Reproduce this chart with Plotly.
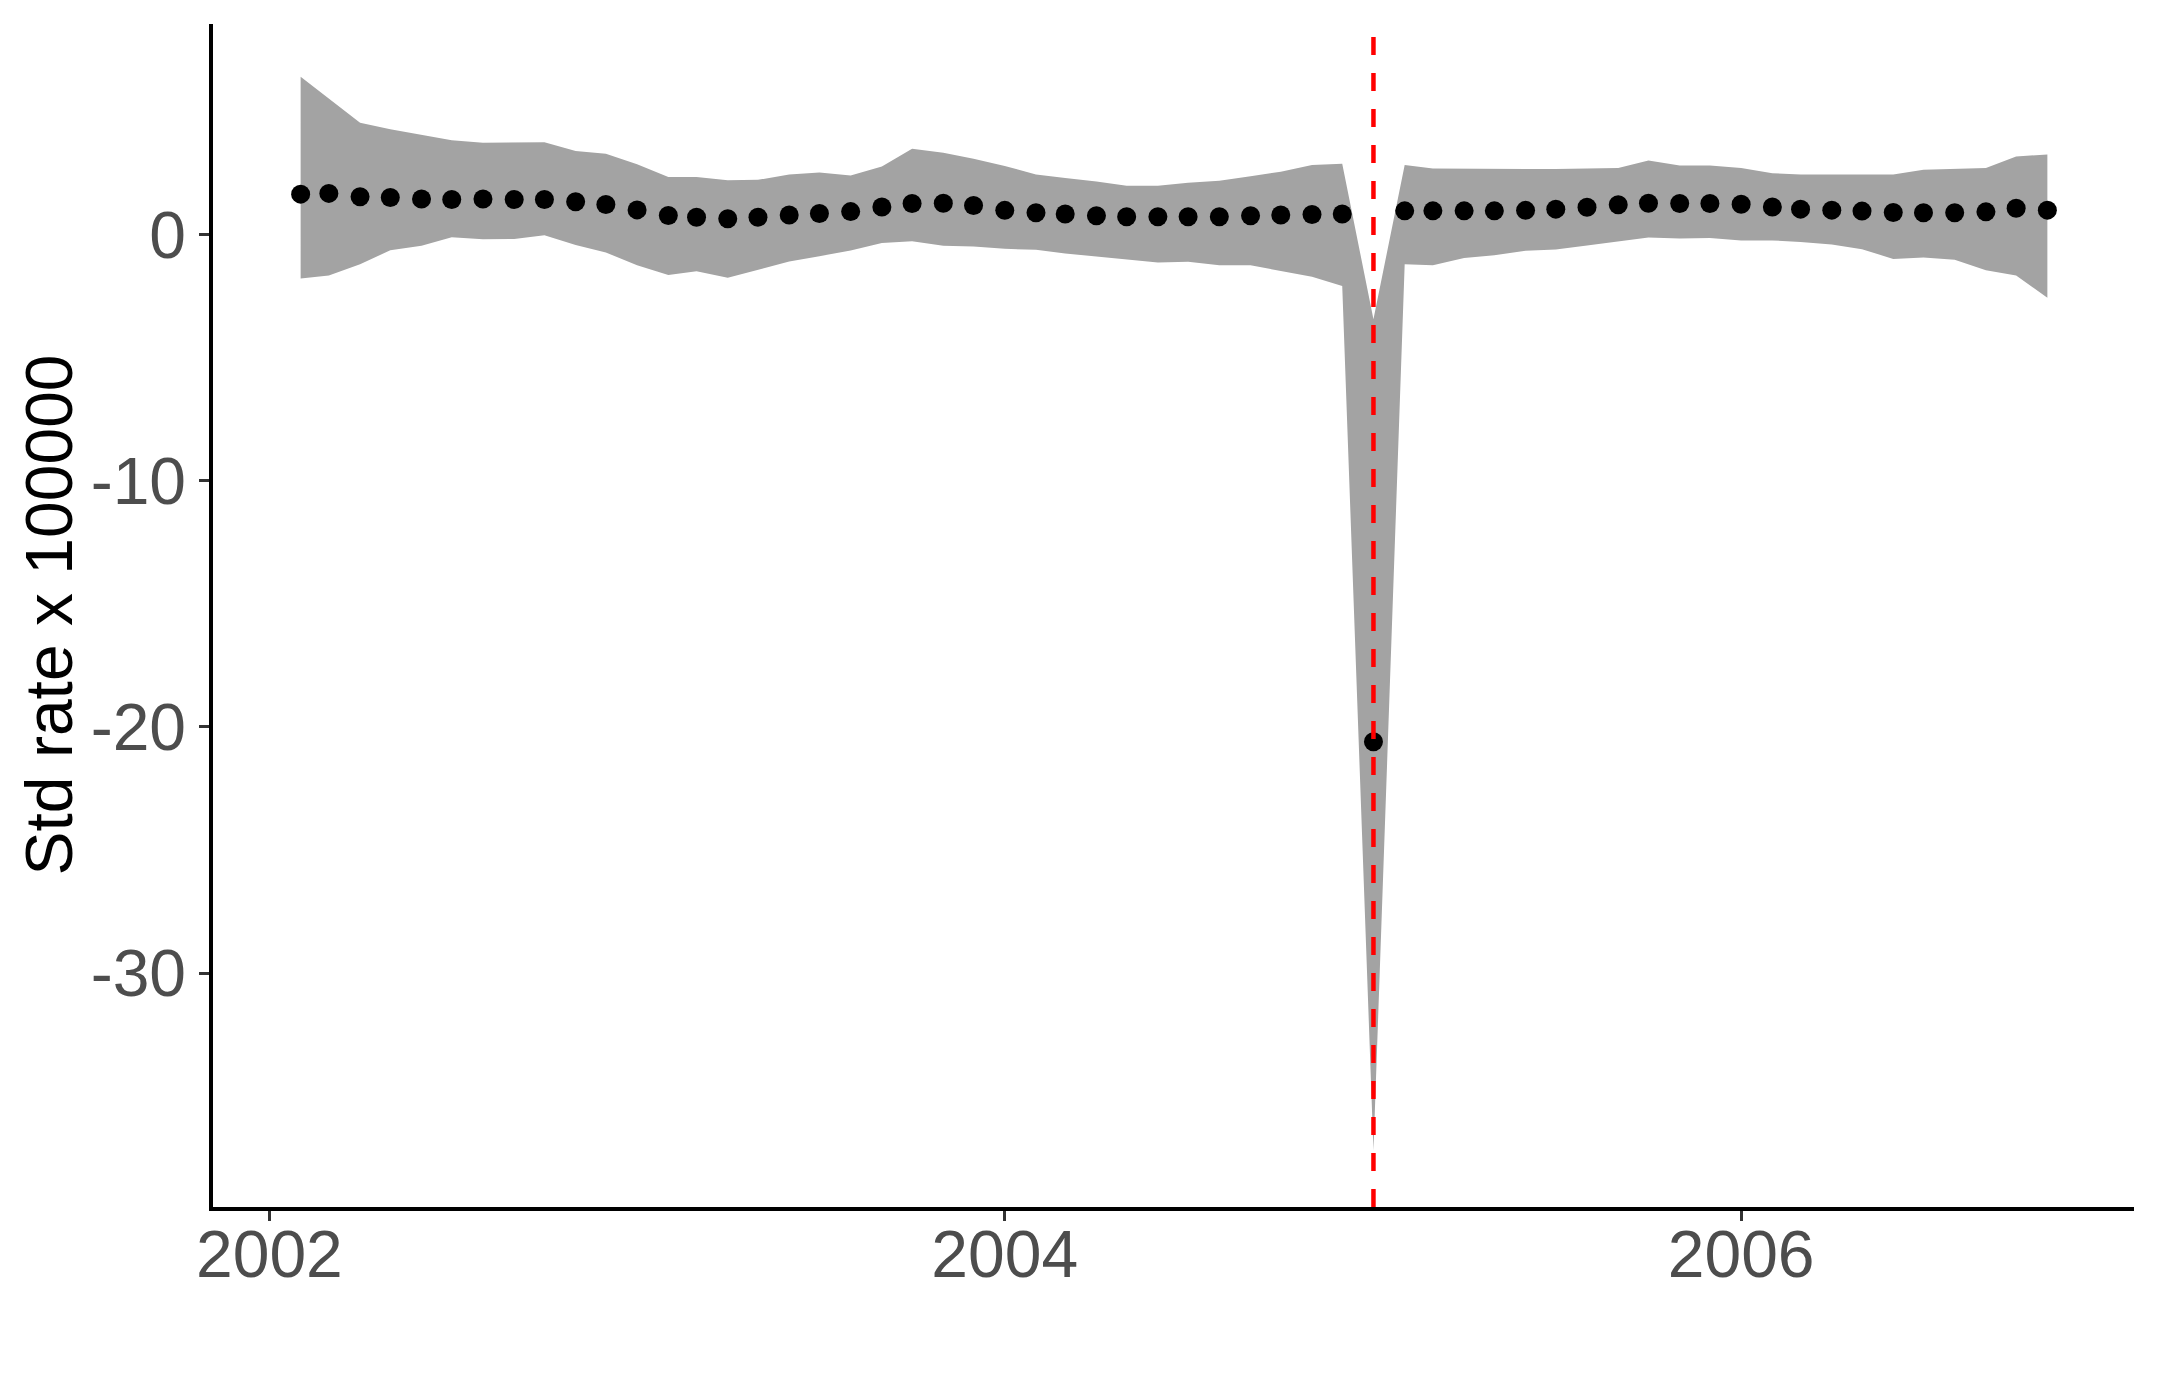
import pandas as pd
import plotly.graph_objects as go

# monthly observations, Feb 2002 - Nov 2006
months = pd.date_range("2002-02-01", periods=58, freq="MS")

rate = [1.64, 1.67, 1.53, 1.50, 1.44, 1.42, 1.44, 1.42, 1.42, 1.33,
        1.22, 1.00, 0.77, 0.70, 0.64, 0.70, 0.79, 0.85, 0.93, 1.12,
        1.26, 1.27, 1.18, 0.98, 0.88, 0.83, 0.76, 0.72, 0.72, 0.72,
        0.72, 0.76, 0.79, 0.81, 0.83, -20.6, 0.96, 0.96, 0.96, 0.96,
        0.98, 1.03, 1.11, 1.21, 1.27, 1.26, 1.26, 1.23, 1.12, 1.03,
        0.99, 0.95, 0.89, 0.88, 0.88, 0.92, 1.07, 0.99]

upper = [6.41, 5.53, 4.54, 4.28, 4.05, 3.83, 3.73, 3.73, 3.75, 3.39,
         3.28, 2.85, 2.34, 2.34, 2.20, 2.22, 2.44, 2.52, 2.40, 2.76,
         3.48, 3.32, 3.08, 2.78, 2.44, 2.29, 2.15, 1.98, 1.98, 2.10,
         2.18, 2.37, 2.55, 2.82, 2.87, -3.44, 2.82, 2.68, 2.67, 2.67,
         2.67, 2.66, 2.68, 2.70, 3.01, 2.80, 2.80, 2.70, 2.49, 2.44,
         2.44, 2.44, 2.44, 2.63, 2.68, 2.70, 3.17, 3.25]

lower = [-1.79, -1.67, -1.21, -0.64, -0.46, -0.11, -0.19, -0.18, -0.03, -0.43,
         -0.73, -1.25, -1.64, -1.49, -1.76, -1.45, -1.10, -0.88, -0.65, -0.35,
         -0.27, -0.46, -0.49, -0.58, -0.62, -0.77, -0.89, -1.00, -1.14, -1.11,
         -1.25, -1.25, -1.48, -1.72, -2.09, -37.2, -1.21, -1.25, -0.95, -0.84,
         -0.66, -0.61, -0.45, -0.28, -0.12, -0.16, -0.14, -0.24, -0.24, -0.30,
         -0.41, -0.60, -0.99, -0.93, -1.03, -1.45, -1.67, -2.57]

event_date = "2005-01-01"
year_ticks = ["2002-01-01", "2004-01-01", "2006-01-01"]
year_labels = ["2002", "2004", "2006"]
y_ticks = [0, -10, -20, -30]

font_family = "Liberation Sans, Arial, sans-serif"

fig = go.Figure()
fig.add_trace(go.Scatter(x=months, y=lower, mode="lines", line=dict(width=0),
                         showlegend=False, hoverinfo="skip"))
fig.add_trace(go.Scatter(x=months, y=upper, mode="lines", line=dict(width=0),
                         fill="tonexty", fillcolor="#A3A3A3",
                         showlegend=False, hoverinfo="skip"))
fig.add_trace(go.Scatter(x=months, y=rate, mode="markers",
                         marker=dict(color="black", size=19),
                         showlegend=False))

# vertical dashed line at the event
fig.add_shape(type="line", x0=event_date, x1=event_date, xref="x",
              y0=0, y1=1, yref="paper", layer="above",
              line=dict(color="#FF0000", width=4.5, dash="18px,18px"))

fig.add_annotation(text="Std rate x 100000", textangle=-90,
                   xref="paper", yref="paper", x=0, y=0.5,
                   xanchor="center", yanchor="middle", xshift=-165,
                   showarrow=False,
                   font=dict(family=font_family, size=66, color="black"))

fig.update_layout(
    width=2160, height=1386,
    margin=dict(l=205, r=34, t=16, b=187),
    plot_bgcolor="white", paper_bgcolor="white",
    font=dict(family=font_family),
    xaxis=dict(type="date", range=["2001-11-06", "2007-01-26"],
               tickvals=year_ticks, ticktext=year_labels,
               showgrid=False, zeroline=False,
               showline=True, linecolor="black", linewidth=3.5,
               ticks="outside", ticklen=10, tickwidth=2.5, tickcolor="#333333",
               ticklabelstandoff=-23,
               tickfont=dict(size=66, color="#4D4D4D")),
    yaxis=dict(range=[-39.5, 8.55],
               tickvals=y_ticks, ticktext=[str(v) for v in y_ticks],
               showgrid=False, zeroline=False,
               showline=True, linecolor="black", linewidth=3.5,
               ticks="outside", ticklen=10, tickwidth=2.5, tickcolor="#333333",
               tickfont=dict(size=66, color="#4D4D4D")),
)

fig.write_html("out.html")
